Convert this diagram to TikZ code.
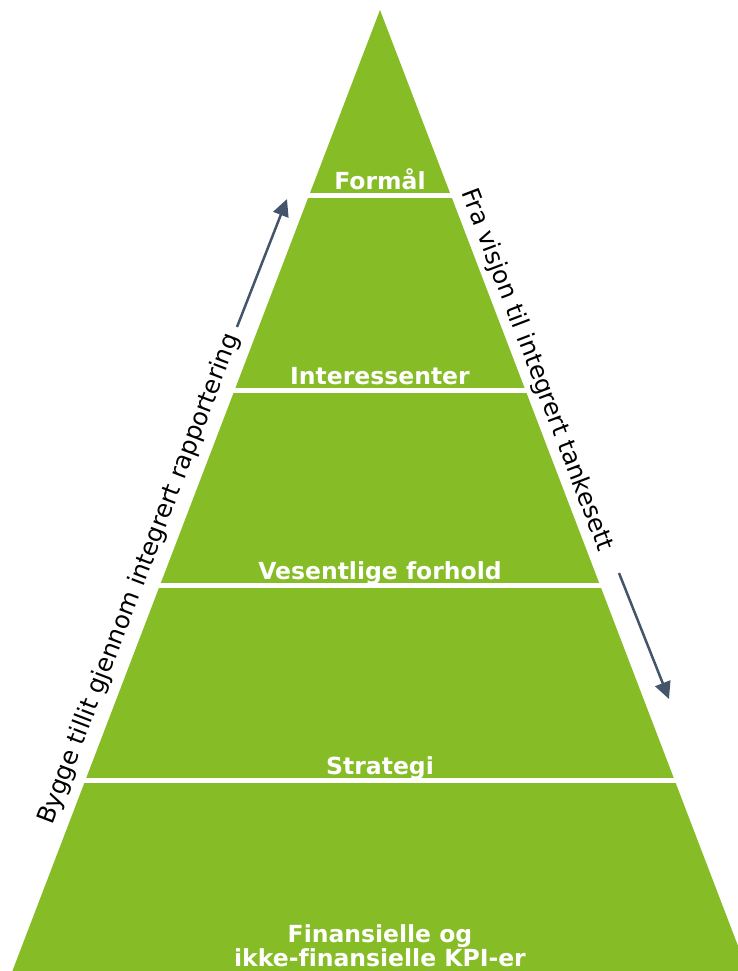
\documentclass[tikz,border=0pt]{standalone}
\usepackage{fontspec}
\setmainfont{DejaVu Sans}[Ligatures=NoCommon]
\usetikzlibrary{arrows.meta}
\definecolor{dgreen}{HTML}{86BC25}
\definecolor{arrowc}{HTML}{44546A}
\begin{document}
\begin{tikzpicture}[x=1pt,y=-1pt,
  lvl/.style={text=white,font=\fontsize{23.5}{24}\selectfont\bfseries,anchor=base,inner sep=0pt},
  side/.style={text=black,font=\fontsize{24.5}{26}\selectfont,anchor=base west,inner sep=0pt},
  flow/.style={draw=arrowc,line width=2.5pt,-{Triangle[length=17pt,width=16pt]}},
  sep/.style={draw=white,line width=5pt}]
\useasboundingbox (0,0) rectangle (738,971);
\clip (0,0) rectangle (738,971);
% pyramid
\coordinate (apex) at (380,10);
\coordinate (bl) at (12.4,971);
\coordinate (br) at (747.6,971);
\fill[dgreen] (apex) -- (br) -- (bl) -- cycle;
% white separators
\foreach \y in {195.5,390,585.5,780}{\draw[sep] (0,\y) -- (738,\y);}
% level labels
\node[lvl] (formal) at (380,189) {Formål};
\node[lvl] (inter) at (380,384) {Interessenter};
\node[lvl] (vesent) at (380,579) {Vesentlige forhold};
\node[lvl] (strat) at (380,774) {Strategi};
\node[lvl] (kpia) at (380,942) {Finansielle og};
\node[lvl] (kpib) at (380,966) {ikke-finansielle KPI-er};
% side texts
\node[side,rotate=-69.06] (rtext) at (461,192) {Fra visjon til integrert tankesett};
\node[side,rotate=69.06] (ltext) at (52,826) {Bygge tillit gjennom integrert rapportering};
% arrows
\coordinate (a1s) at (237,327);
\coordinate (a1e) at (287,199);
\coordinate (a2s) at (619,573);
\coordinate (a2e) at (669,699);
\draw[flow] (a1s) -- (a1e);
\draw[flow] (a2s) -- (a2e);
\end{tikzpicture}
\end{document}
